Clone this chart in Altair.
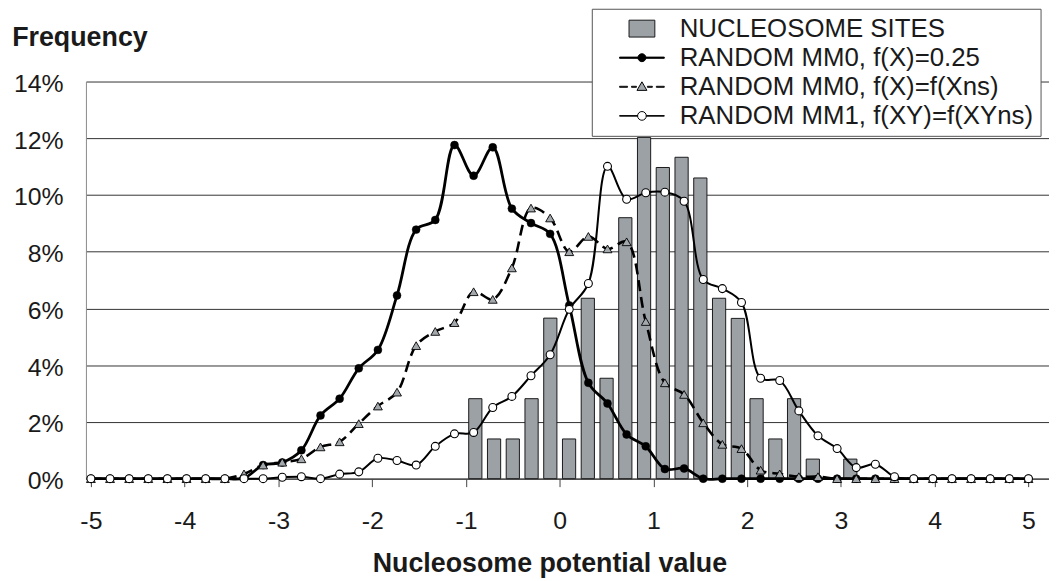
import altair as alt
import pandas as pd

# ---------------- data ----------------
x_pos = [-5.000, -4.796, -4.592, -4.388, -4.184, -3.980, -3.776, -3.571, -3.367, -3.163,
         -2.959, -2.755, -2.551, -2.347, -2.143, -1.939, -1.735, -1.531, -1.327, -1.122,
         -0.918, -0.714, -0.510, -0.306, -0.102, 0.102, 0.306, 0.510, 0.714, 0.918,
         1.122, 1.327, 1.531, 1.735, 1.939, 2.143, 2.347, 2.551, 2.755, 2.959,
         3.163, 3.367, 3.571, 3.776, 3.980, 4.184, 4.388, 4.592, 4.796, 5.000]

mm0_uniform = [0, 0, 0, 0, 0, 0, 0, 0, 0.02, 0.48,
               0.57, 1.00, 2.23, 2.82, 3.89, 4.54, 6.46, 8.78, 9.12, 11.76,
               10.68, 11.68, 9.52, 9.01, 8.63, 6.11, 3.38, 2.65, 1.56, 1.14,
               0.34, 0.36, 0, 0, 0, 0, 0, 0, 0, 0,
               0, 0, 0, 0, 0, 0, 0, 0, 0, 0]

mm0_ns = [0, 0, 0, 0, 0, 0, 0, 0, 0.17, 0.48,
          0.58, 0.70, 1.12, 1.30, 1.94, 2.56, 3.05, 4.69, 5.19, 5.50,
          6.59, 6.32, 7.43, 9.54, 9.19, 8.00, 8.54, 8.10, 8.35, 5.54,
          3.38, 2.97, 1.97, 1.21, 1.06, 0.30, 0.17, 0.07, 0.07, 0,
          0, 0, 0, 0, 0, 0, 0, 0, 0, 0]

mm1_ns = [0, 0, 0, 0, 0, 0, 0, 0, 0, 0,
          0.05, 0.07, 0, 0.16, 0.24, 0.72, 0.64, 0.48, 1.14, 1.58,
          1.63, 2.51, 2.90, 3.63, 4.37, 5.97, 6.88, 11.01, 9.85, 10.08,
          10.10, 9.78, 7.02, 6.70, 6.21, 3.54, 3.46, 2.39, 1.51, 1.06,
          0.39, 0.51, 0.07, 0, 0, 0, 0, 0, 0, 0]

bar_x = [-0.9, -0.7, -0.5, -0.3, -0.1, 0.1, 0.3, 0.5, 0.7, 0.9,
         1.1, 1.3, 1.5, 1.7, 1.9, 2.1, 2.3, 2.5, 2.7, 3.1]
bar_pct = [2.82, 1.40, 1.40, 2.82, 5.66, 1.40, 6.36, 3.54, 9.20, 12.03,
           10.97, 11.33, 10.60, 6.36, 5.65, 2.82, 1.40, 2.82, 0.69, 0.69]

x_ticks = [-5, -4, -3, -2, -1, 0, 1, 2, 3, 4, 5]
y_ticks = [0, 2, 4, 6, 8, 10, 12, 14]

legend_labels = ["NUCLEOSOME SITES",
                 "RANDOM MM0, f(X)=0.25",
                 "RANDOM MM0, f(X)=f(Xns)",
                 "RANDOM MM1, f(XY)=f(XYns)"]
s_uniform, s_ns, s_mm1 = legend_labels[1], legend_labels[2], legend_labels[3]

# ---------------- styling ----------------
FONT = "Liberation Sans"
TEXT = "#1a1a1a"
BAR_FILL = "#9ca1a6"
TRI_FILL = "#a3a8ad"

legend_paths = [
    "M-1.3,-0.85H1.3V0.85H-1.3Z",
    "M-2.25,-0.06H2.25V0.06H-2.25Z M-0.4,0A0.4,0.4,0,1,1,0.4,0A0.4,0.4,0,1,1,-0.4,0Z",
    "M-2.25,-0.05H-1.45V0.05H-2.25Z M-1.05,-0.05H-0.55V0.05H-1.05Z "
    "M0.55,-0.05H1.05V0.05H0.55Z M1.45,-0.05H2.25V0.05H1.45Z M0,-0.5L0.5,0.36L-0.5,0.36Z",
    "M-2.25,-0.03H-0.44V0.03H-2.25Z M0.44,-0.03H2.25V0.03H0.44Z "
    "M-0.44,0A0.44,0.44,0,1,1,0.44,0A0.44,0.44,0,1,1,-0.44,0Z",
]
legend_fills = [BAR_FILL, "#000000", TRI_FILL, "#ffffff"]
legend_strokes = ["#1a1a1a", "#000000", "#000000", "#000000"]

lines = pd.DataFrame({
    "x": x_pos * 3,
    "value": mm0_uniform + mm0_ns + mm1_ns,
    "series": [s_uniform] * len(x_pos) + [s_ns] * len(x_pos) + [s_mm1] * len(x_pos),
})
bars = pd.DataFrame({"x": bar_x, "value": bar_pct})
legend_df = pd.DataFrame({"series": legend_labels})

x_scale = alt.Scale(domain=[-5, 5.166], nice=False, zero=False)
y_scale = alt.Scale(domain=[0, 14], nice=False, zero=True)

x_axis = alt.Axis(values=x_ticks, labelExpr="'' + datum.value", grid=False,
                  title="Nucleosome potential value",
                  titleX=466.8, titleY=93.3, titleAlign="center", titleBaseline="alphabetic",
                  titleFontSize=27, titleFontWeight="bold",
                  ticks=True, tickSize=8, tickColor="#444444", tickWidth=1,
                  labelPadding=22, labelFontSize=25,
                  domain=True, domainColor="#444444", domainWidth=1.2)
y_axis = alt.Axis(values=y_ticks, labelExpr="datum.value + '%'", grid=True,
                  gridColor="#333333", gridWidth=1,
                  title="Frequency", titleAngle=0, titleX=-74.8, titleY=-36.7,
                  titleAlign="left", titleBaseline="alphabetic",
                  titleFontSize=27, titleFontWeight="bold",
                  ticks=False, tickSize=0, labelPadding=23, labelFontSize=25,
                  labelOffset=2,
                  domain=True, domainColor="#8a8a8a", domainWidth=1)


def xenc():
    return alt.X("x:Q", scale=x_scale, axis=x_axis)


def yenc():
    return alt.Y("value:Q", scale=y_scale, axis=y_axis)


bar_layer = alt.Chart(bars).mark_bar(
    orient="vertical", size=13.3, fill=BAR_FILL, stroke="#1a1a1a", strokeWidth=1
).encode(x=xenc(), y=yenc())

base = alt.Chart(lines)


def series_line(name, **kw):
    return base.transform_filter(alt.datum.series == name).mark_line(
        interpolate="catmull-rom", color="#000000", **kw
    ).encode(x=xenc(), y=yenc())


def series_points(name, **kw):
    return base.transform_filter(alt.datum.series == name).mark_point(
        filled=True, opacity=1, **kw
    ).encode(x=xenc(), y=yenc())


black_line = series_line(s_uniform, strokeWidth=2.8)
black_pts = series_points(s_uniform, shape="circle", size=64, fill="#000000",
                          stroke="#000000", strokeWidth=0.5)
tri_line = series_line(s_ns, strokeWidth=2.6, strokeDash=[11, 6])
tri_pts = series_points(s_ns, shape="triangle-up", size=80, fill=TRI_FILL,
                        stroke="#000000", strokeWidth=0.9)
white_line = series_line(s_mm1, strokeWidth=2.0)
white_pts = series_points(s_mm1, shape="circle", size=64, fill="#ffffff",
                          stroke="#000000", strokeWidth=1.1)

legend_def = alt.Legend(
    title=None, orient="none", legendX=509.5, legendY=-73.3,
    padding=7, strokeColor="#555555", fillColor="#ffffff",
    symbolSize=400, symbolOffset=30.5, labelOffset=25,
    symbolStrokeWidth=1, symbolOpacity=1,
    labelFont=FONT, labelFontSize=26, labelColor=TEXT, labelLimit=2000,
    labelExpr="datum.label + '\u00a0\u00a0\u00a0'",
    rowPadding=3.3, labelBaseline="middle",
)

legend_layer = alt.Chart(legend_df).transform_filter("false").mark_point(
    filled=True, strokeWidth=1, opacity=1
).encode(
    shape=alt.Shape("series:N", scale=alt.Scale(domain=legend_labels, range=legend_paths),
                    legend=legend_def),
    fill=alt.Fill("series:N", scale=alt.Scale(domain=legend_labels, range=legend_fills),
                  legend=legend_def),
    stroke=alt.Stroke("series:N", scale=alt.Scale(domain=legend_labels, range=legend_strokes),
                      legend=legend_def),
)

chart = alt.layer(
    bar_layer, black_line, black_pts, tri_line, tri_pts, white_line, white_pts, legend_layer
).properties(
    width=970, height=400,
    autosize=alt.AutoSizeParams(type="none"),
    padding={"left": 78.5, "top": 72, "right": 0, "bottom": 101},
    background="#ffffff",
).configure_view(
    stroke=None
).configure_axis(
    labelFont=FONT, titleFont=FONT, labelColor=TEXT, titleColor=TEXT
)

chart.save("out.html", embed_options={"renderer": "svg", "actions": False})
